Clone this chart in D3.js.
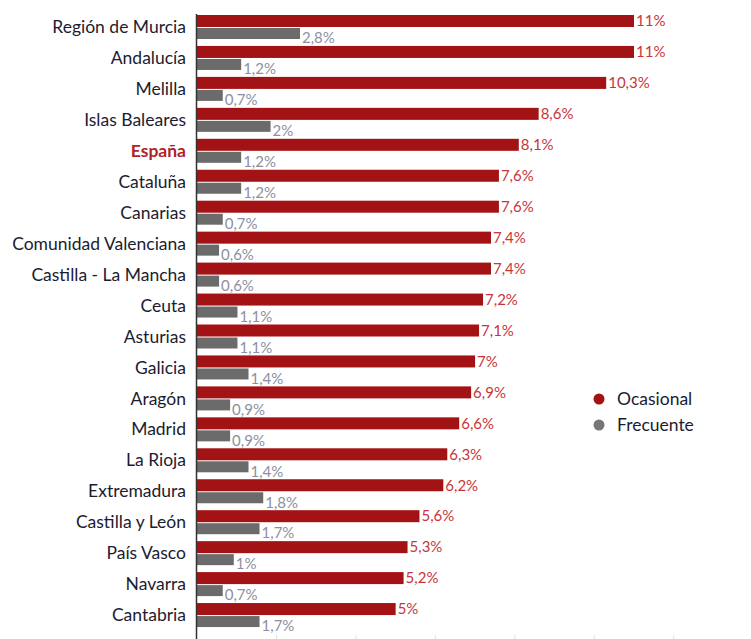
<!DOCTYPE html>
<html>
<head>
<meta charset="utf-8">
<script src="https://cdn.jsdelivr.net/npm/d3@7"></script>
<style>
  body { margin: 0; background: #fff; }
  svg { display: block; }
</style>
</head>
<body>
<svg id="chart" width="751" height="639"></svg>
<script>
const categories = ['Región de Murcia', 'Andalucía', 'Melilla', 'Islas Baleares', 'España',
  'Cataluña', 'Canarias', 'Comunidad Valenciana', 'Castilla - La Mancha', 'Ceuta',
  'Asturias', 'Galicia', 'Aragón', 'Madrid', 'La Rioja', 'Extremadura',
  'Castilla y León', 'País Vasco', 'Navarra', 'Cantabria'];
const ocasional = [11, 11, 10.3, 8.6, 8.1, 7.6, 7.6, 7.4, 7.4, 7.2, 7.1, 7, 6.9, 6.6, 6.3, 6.2, 5.6, 5.3, 5.2, 5];
const frecuente = [2.8, 1.2, 0.7, 2, 1.2, 1.2, 0.7, 0.6, 0.6, 1.1, 1.1, 1.4, 0.9, 0.9, 1.4, 1.8, 1.7, 1, 0.7, 1.7];
const seriesNames = ['Ocasional', 'Frecuente'];
const tickValues = [2, 4, 6, 8, 10, 12];

const data = categories.map((c, i) => ({ cat: c, oc: ocasional[i], fr: frecuente[i] }));

const svg = d3.select('#chart');
const height = 639;
const x0 = 197;

const red = '#a31214';
const grey = '#6b6b6b';

// the two series are drawn at slightly different scales in the original
const xRed = d3.scaleLinear().domain([0, 11]).range([x0, x0 + 437]);
const xGrey = d3.scaleLinear().domain([0, 2.8]).range([x0, x0 + 103]);

const y = d3.scaleBand().domain(categories).range([15, 634]).padding(0);

const loc = d3.formatLocale({ decimal: ',', thousands: '.', grouping: [3], currency: ['', '€'] });
const fmt = (v) => loc.format('~r')(v) + '%';

// faint tick marks at the bottom
svg.append('g')
  .selectAll('line')
  .data(tickValues)
  .enter()
  .append('line')
  .attr('x1', (d) => xRed(d))
  .attr('x2', (d) => xRed(d))
  .attr('y1', 635)
  .attr('y2', 639)
  .attr('stroke', '#e2e2e2')
  .attr('stroke-width', 1);

const rows = svg.append('g')
  .selectAll('g')
  .data(data)
  .enter()
  .append('g')
  .attr('transform', (d) => `translate(0,${y(d.cat)})`);

rows.append('rect')
  .attr('x', x0)
  .attr('y', 0)
  .attr('width', (d) => xRed(d.oc) - x0)
  .attr('height', 12)
  .attr('fill', red);

rows.append('rect')
  .attr('x', x0)
  .attr('y', 13)
  .attr('width', (d) => xGrey(d.fr) - x0)
  .attr('height', 11)
  .attr('fill', grey);

rows.append('text')
  .attr('x', (d) => xRed(d.oc) + 2)
  .attr('y', 6)
  .attr('dy', '0.35em')
  .attr('fill', '#c8353a')
  .style('font-family', 'Lato, sans-serif')
  .style('font-size', '15px')
  .text((d) => fmt(d.oc));

rows.append('text')
  .attr('x', (d) => xGrey(d.fr) + 2)
  .attr('y', 23)
  .attr('dy', '0.35em')
  .attr('fill', '#8c90a0')
  .style('font-family', 'Lato, sans-serif')
  .style('font-size', '15px')
  .text((d) => fmt(d.fr));

rows.append('text')
  .attr('x', 186)
  .attr('y', 12)
  .attr('dy', '0.35em')
  .attr('text-anchor', 'end')
  .attr('fill', (d) => (d.cat === 'España' ? '#b0232a' : '#1c1c30'))
  .style('font-family', 'Lato, sans-serif')
  .style('font-size', '17.5px')
  .style('font-weight', (d) => (d.cat === 'España' ? 'bold' : 'normal'))
  .text((d) => d.cat);

// axis line
svg.append('line')
  .attr('x1', 196.5)
  .attr('x2', 196.5)
  .attr('y1', 14)
  .attr('y2', height)
  .attr('stroke', '#333')
  .attr('stroke-width', 1.5);

// legend
const legend = svg.append('g')
  .selectAll('g')
  .data(seriesNames)
  .enter()
  .append('g')
  .attr('transform', (d, i) => `translate(599,${399 + i * 26})`);

legend.append('circle')
  .attr('r', 5.5)
  .attr('fill', (d, i) => (i === 0 ? red : '#777'));

legend.append('text')
  .attr('x', 18)
  .attr('dy', '0.35em')
  .attr('fill', '#1c1c30')
  .style('font-family', 'Lato, sans-serif')
  .style('font-size', '17.5px')
  .text((d) => d);
</script>
</body>
</html>
